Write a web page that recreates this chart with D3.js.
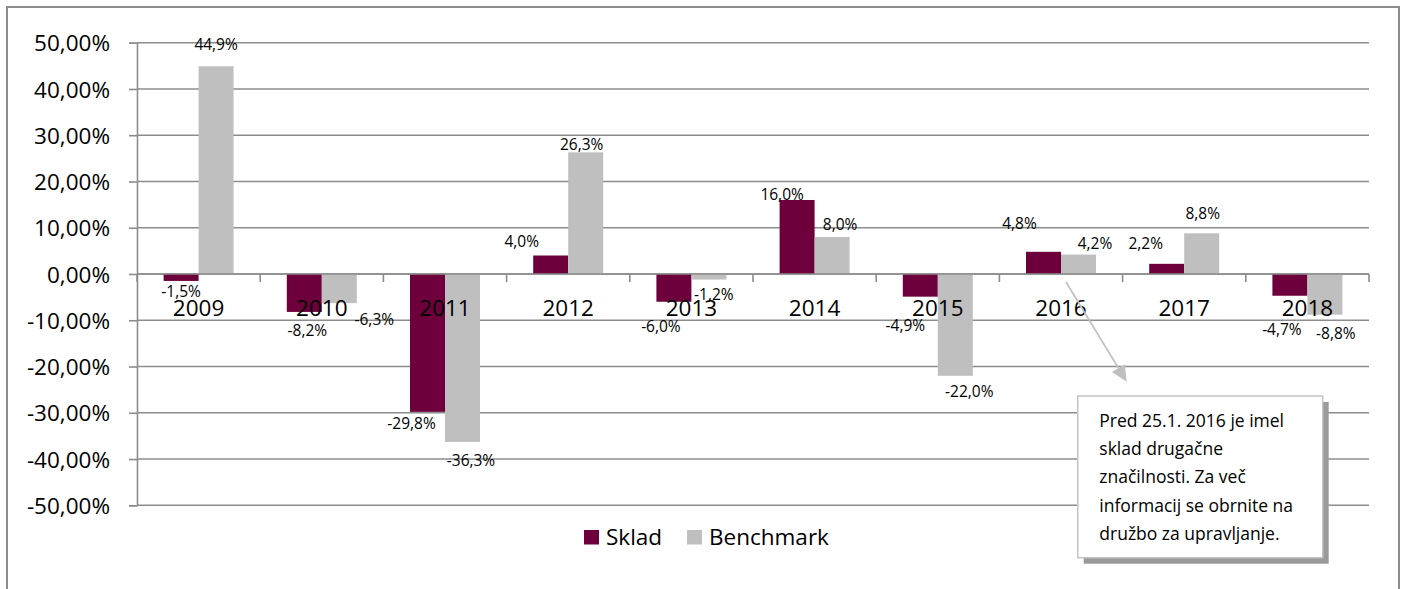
<!DOCTYPE html>
<html>
<head>
<meta charset="utf-8">
<script src="https://cdn.jsdelivr.net/npm/d3@7/dist/d3.min.js"></script>
<style>
  html, body { margin: 0; padding: 0; background: #ffffff; }
  svg { display: block; font-family: "Open Sans", "DejaVu Sans", sans-serif; }
</style>
</head>
<body>
<svg id="chart" width="1405" height="589"></svg>
<script>
// Annual returns (%) of the fund vs. its benchmark
const years = ["2009", "2010", "2011", "2012", "2013", "2014", "2015", "2016", "2017", "2018"];
const sklad = [-1.5, -8.2, -29.8, 4.0, -6.0, 16.0, -4.9, 4.8, 2.2, -4.7];
const benchmark = [44.9, -6.3, -36.3, 26.3, -1.2, 8.0, -22.0, 4.2, 8.8, -8.8];
const seriesNames = ["Sklad", "Benchmark"];
const yTickValues = [50, 40, 30, 20, 10, 0, -10, -20, -30, -40, -50];
const noteLines = [
  "Pred 25.1. 2016 je imel",
  "sklad drugačne",
  "značilnosti. Za več",
  "informacij se obrnite na",
  "družbo za upravljanje."
];

// Hand-placed offsets of the value labels, [dx, dy] from the bar's end
const skladLabelShift = [[0, 10.5], [3, 19], [-16, 12], [-29, -14.5], [-13, 25], [-15, -6], [-15, 29], [-24, -28], [-21, -20], [-8, 34]];
const benchLabelShift = [[0, -22], [35, 16], [8.5, 19], [-4, -8], [5, 14.5], [8, -13], [14, 16], [16.5, -11.6], [1, -20], [11, 19]];

const colors = { Sklad: "#6d003c", Benchmark: "#bfbfbf" };
const gridColor = "#8c8c8c";

const plot = { left: 137, right: 1369, top: 42.7, bottom: 505.3 };

const svg = d3.select("#chart");

const x = d3.scaleBand().domain(years).range([plot.left, plot.right]).padding(0);
const bw = x.bandwidth();
const groupW = bw * 0.568;
const xs = d3.scaleBand().domain(seriesNames)
  .range([(bw - groupW) / 2, (bw + groupW) / 2]).padding(0);
const y = d3.scaleLinear().domain([-50, 50]).range([plot.bottom, plot.top]);

// decimal comma and a plain hyphen for negatives
const fixNum = s => s.replace(".", ",").replace("\u2212", "-");
const fmtTick = v => fixNum(d3.format(".2f")(v)) + "%";
const fmtVal = v => fixNum(d3.format(".1f")(v)) + "%";

// outer frame
svg.append("rect")
  .attr("x", 7).attr("y", 7).attr("width", 1392).attr("height", 620)
  .attr("fill", "none").attr("stroke", gridColor).attr("stroke-width", 2);

// horizontal gridlines
svg.append("g")
  .selectAll("line").data(yTickValues).join("line")
  .attr("x1", plot.left).attr("x2", plot.right)
  .attr("y1", d => y(d)).attr("y2", d => y(d))
  .attr("stroke", gridColor).attr("stroke-width", 1.6);

// bars
const rows = years.map((yr, i) => ({ year: yr, i, Sklad: sklad[i], Benchmark: benchmark[i] }));
const barData = [];
rows.forEach(r => seriesNames.forEach(s => barData.push({ year: r.year, i: r.i, series: s, value: r[s] })));

svg.append("g")
  .selectAll("rect").data(barData).join("rect")
  .attr("x", d => x(d.year) + xs(d.series))
  .attr("width", xs.bandwidth())
  .attr("y", d => y(Math.max(0, d.value)))
  .attr("height", d => Math.abs(y(d.value) - y(0)))
  .attr("fill", d => colors[d.series]);

// y axis
const yAxis = d3.axisLeft(y).tickValues(yTickValues).tickSize(8).tickPadding(19).tickFormat(fmtTick);
const gy = svg.append("g").attr("transform", `translate(${plot.left},0)`).call(yAxis);
gy.select(".domain").attr("stroke", gridColor).attr("stroke-width", 1.6);
gy.selectAll(".tick line").attr("stroke", gridColor).attr("stroke-width", 1.6);
gy.selectAll(".tick text")
  .attr("font-size", 22.5).attr("fill", "#000")
  .attr("font-family", "'Open Sans', sans-serif")
  .attr("dy", "0.357em");

// x axis along zero, ticks at category boundaries
const zeroY = y(0);
svg.append("line")
  .attr("x1", plot.left).attr("x2", plot.right).attr("y1", zeroY).attr("y2", zeroY)
  .attr("stroke", gridColor).attr("stroke-width", 1.6);
const boundaries = years.map(yr => x(yr)).concat([plot.right]);
svg.append("g").selectAll("line").data(boundaries).join("line")
  .attr("x1", d => d).attr("x2", d => d)
  .attr("y1", zeroY).attr("y2", zeroY + 8)
  .attr("stroke", gridColor).attr("stroke-width", 1.6);

// category labels
svg.append("g").selectAll("text").data(years).join("text")
  .attr("x", d => x(d) + bw / 2)
  .attr("y", zeroY + 41.5)
  .attr("text-anchor", "middle")
  .attr("font-size", 22.5).attr("fill", "#000")
  .text(d => d);

// value labels
const labelData = barData.map(d => {
  const shift = d.series === "Sklad" ? skladLabelShift[d.i] : benchLabelShift[d.i];
  return { ...d, dx: shift[0], dy: shift[1] };
});
svg.append("g").selectAll("text").data(labelData).join("text")
  .attr("x", d => x(d.year) + xs(d.series) + xs.bandwidth() / 2 + d.dx)
  .attr("y", d => y(d.value) + d.dy)
  .attr("dy", "0.357em")
  .attr("text-anchor", "middle")
  .attr("font-size", 15.5).attr("fill", "#000")
  .text(d => fmtVal(d.value));

// legend
const legend = svg.append("g");
const legendItems = [
  { name: "Sklad", sx: 584, tx: 606 },
  { name: "Benchmark", sx: 687, tx: 709 }
];
legend.selectAll("rect").data(legendItems).join("rect")
  .attr("x", d => d.sx).attr("y", 530).attr("width", 15).attr("height", 14.5)
  .attr("fill", d => colors[d.name]);
legend.selectAll("text").data(legendItems).join("text")
  .attr("x", d => d.tx).attr("y", 545)
  .attr("font-size", 22.5).attr("fill", "#000")
  .text(d => d.name);

// callout arrow from the 2016 bars to the note
const ax1 = x("2016") + xs("Benchmark") + 5, ay1 = zeroY + 8;
const ax2 = 1126.7, ay2 = 381.7;
const ang = Math.atan2(ay2 - ay1, ax2 - ax1);
const headLen = 16, headHalf = 7.5;
const bx = ax2 - headLen * Math.cos(ang), by = ay2 - headLen * Math.sin(ang);
svg.append("line")
  .attr("x1", ax1).attr("y1", ay1).attr("x2", bx).attr("y2", by)
  .attr("stroke", "#bfbfbf").attr("stroke-width", 1.6);
svg.append("path")
  .attr("d", d3.line()([
    [ax2, ay2],
    [bx + headHalf * Math.sin(ang), by - headHalf * Math.cos(ang)],
    [bx - headHalf * Math.sin(ang), by + headHalf * Math.cos(ang)]
  ]) + "Z")
  .attr("fill", "#bfbfbf");

// note box with drop shadow
const note = { x: 1077.7, y: 396, w: 245, h: 161.7 };
svg.append("rect")
  .attr("x", note.x + 6).attr("y", note.y + 6).attr("width", note.w).attr("height", note.h)
  .attr("fill", "#9a9a9a");
svg.append("rect")
  .attr("x", note.x).attr("y", note.y).attr("width", note.w).attr("height", note.h)
  .attr("fill", "#ffffff").attr("stroke", "#c4c4c4").attr("stroke-width", 1.5);
svg.append("g").selectAll("text").data(noteLines).join("text")
  .attr("x", note.x + 21.6)
  .attr("y", (d, i) => note.y + 30.7 + i * 28.33)
  .attr("font-size", 17.5).attr("fill", "#000")
  .text(d => d);
</script>
</body>
</html>
